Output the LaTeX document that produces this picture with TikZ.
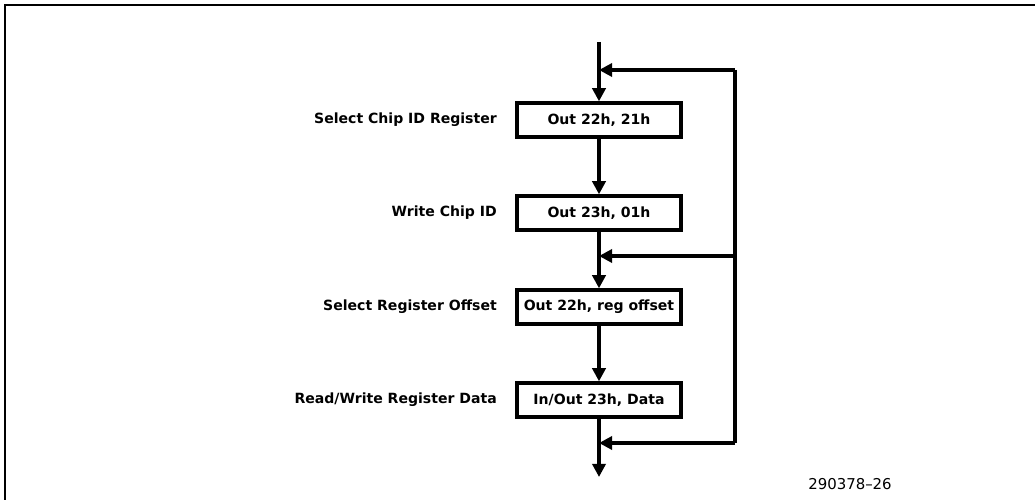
\documentclass[tikz,border=0pt]{standalone}
\usepackage{fontspec}
\setmainfont{DejaVu Sans}
\usetikzlibrary{arrows.meta}
\tikzset{
  flowline/.style={line width=1.9pt, -{Triangle[length=7.5pt,width=7.5pt]}},
  stepbox/.style={draw, line width=1.9pt, minimum width=3.28cm, minimum height=0.68cm, inner sep=0pt, font=\bfseries\fontsize{8}{9.5}\selectfont},
  steplabel/.style={anchor=east, font=\bfseries\fontsize{8}{9.5}\selectfont}
}
\begin{document}
\begin{tikzpicture}[x=0.02cm, y=-0.02cm]
            \useasboundingbox (0,0) rectangle (1035,500);
            % frame
            \draw[line width=1.4pt] (5,500) -- (5,5) -- (1035,5);
            % boxes
            \node[stepbox] (chipsel) at (599,120) {Out 22h, 21h};
            \node[stepbox] (chipid) at (599,213) {Out 23h, 01h};
            \node[stepbox] (regsel) at (599,307) {Out 22h, reg offset};
            \node[stepbox] (regdata) at (599,400) {In/Out 23h, Data};
            % labels
            \node[steplabel] (l1) at (503,120) {Select Chip ID Register};
            \node[steplabel] (l2) at (503,213) {Write Chip ID};
            \node[steplabel] (l3) at (503,307) {Select Register Offset};
            \node[steplabel] (l4) at (503,400) {Read/Write Register Data};
            % junctions
            \coordinate (start) at (599,42);
            \coordinate (j1) at (599,70);
            \coordinate (j2) at (599,256);
            \coordinate (j3) at (599,443);
            \coordinate (r1) at (735,70);
            \coordinate (r2) at (735,256);
            \coordinate (r3) at (735,443);
            \coordinate (finish) at (599,477);
            % main flow
            \draw[flowline] (start) -- (chipsel);
            \draw[flowline] (chipsel) -- (chipid);
            \draw[flowline] (chipid) -- (regsel);
            \draw[flowline] (regsel) -- (regdata);
            \draw[flowline] (regdata) -- (finish);
            % loop back
            \draw[line width=1.9pt] (r1) -- (r3);
            \draw[flowline] (r1) -- (j1);
            \draw[flowline] (r2) -- (j2);
            \draw[flowline] (r3) -- (j3);
            \node[font=\fontsize{8.5}{10}\selectfont] (figno) at (850,484) {290378--26};
        \end{tikzpicture}
\end{document}
